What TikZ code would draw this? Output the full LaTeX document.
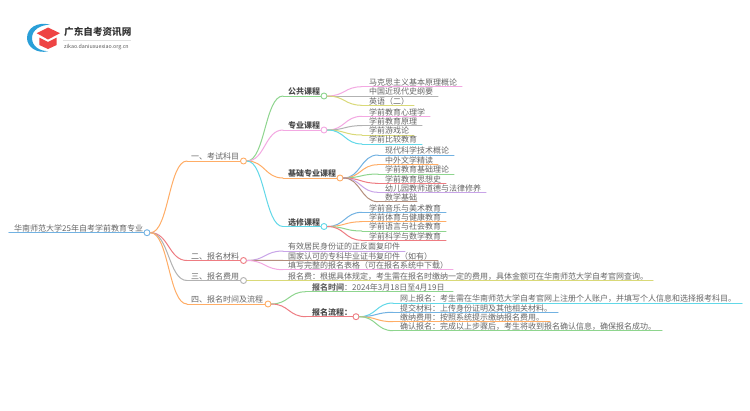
\documentclass[tikz,border=0pt]{standalone}
\usepackage{fontspec}
\setmainfont{Noto Sans CJK SC}
\usetikzlibrary{calc}
\definecolor{cpink}{HTML}{F3A8E2}
\definecolor{cgray}{HTML}{B2B2B2}
\definecolor{cyel}{HTML}{D9D978}
\definecolor{ccyan}{HTML}{62D8E8}
\definecolor{cblue}{HTML}{72B2E2}
\definecolor{corange}{HTML}{FFAD66}
\definecolor{cgreen}{HTML}{8ED58E}
\definecolor{cred}{HTML}{EE7C82}
\definecolor{cpurple}{HTML}{C8A4E8}
\definecolor{cbrown}{HTML}{B48E7C}
\definecolor{ctext}{HTML}{666666}
\definecolor{logoblue}{HTML}{2A9FD8}
\definecolor{logored}{HTML}{EE4444}
\tikzset{
  hubnode/.style={circle,draw=#1,fill=white,line width=0.9pt,inner sep=0pt,minimum size=6pt},
  wire/.style={draw=#1,line width=1pt,line cap=round},
  label/.style={anchor=base west,inner sep=0pt,text=ctext,font=\fontsize{8}{8}\selectfont},
  strong/.style={label,text=black!70,font=\fontsize{8}{8}\selectfont\bfseries},
}
\newcommand{\curveto}[3]{%
  \coordinate (mid) at ($(#1.east)!.5!(#2)$);
  \draw[wire=#3] (#1.east) .. controls (#1.east -| mid) and (#2 -| mid) .. (#2);}
\newcommand{\leaf}[8]{%
  \coordinate (#1-s) at (#4,#6);
  \coordinate (#1-e) at (#5,#6);
  \node[label] (#1) at (#7,#6-1.2) {#8};
  \curveto{#2}{#1-s}{#3}
  \draw[wire=#3] (#1-s) -- (#1-e);}
\newcommand{\branch}[9]{%
  \coordinate (#1-s) at (#4,#6);
  \node[hubnode=#3] (#1-h) at (#5,#6) {};
  \node[#8] (#1) at (#7,#6-1.2) {#9};
  \curveto{#2}{#1-s}{#3}
  \draw[wire=#3] (#1-s) -- (#1-h.west);}
\begin{document}
\begin{tikzpicture}[x=1pt,y=-1pt]
\useasboundingbox (0,0) rectangle (750,410);
\fill[white] (0,0) rectangle (750,410);
% logo
\fill[logoblue] (50,24.6) .. controls (37,21.5) and (27,28) .. (27,38) .. controls (27,47) and (37,54) .. (48,51.2) .. controls (39,51) and (32,46) .. (32,38) .. controls (32,30) and (40,25) .. (50,24.6) -- cycle;
\fill[logored] (36.7,33.2) -- (48,27.5) -- (60,33.2) -- (48,39.5) -- cycle;
\fill[logored] (39.3,37.6) -- (48,42) -- (56.7,37.6) -- (56.7,45) -- (48,49) -- (39.3,45) -- cycle;
\node[anchor=base west,inner sep=0pt,text=black!80,font=\fontsize{9.6}{10}\selectfont\bfseries] (brand) at (64,35) {广东自考资讯网};
\coordinate (ruleL) at (63,40.5);
\coordinate (ruleR) at (131,40.5);
\draw[black!12,line width=0.5pt] (ruleL) -- (ruleR);
\node[anchor=base west,inner sep=0pt,text=black!65,font=\fontsize{5.3}{5.3}\selectfont] (site) at (64,48) {zikao.daniuxuexiao.org.cn};
% root
\coordinate (root-s) at (9,232.7);
\node[hubnode=cblue] (root-h) at (147,232.7) {};
\draw[wire=cblue,line width=1.2pt] (root-s) -- (root-h.west);
\node[label] (root) at (14,231.5) {华南师范大学25年自考学前教育专业};
% level 1
\branch{a}{root-h}{corange}{187}{243.5}{161}{191}{label}{一、考试科目}
\branch{b}{root-h}{cred}{187}{243.5}{260.5}{191}{label}{二、报名材料}
\branch{c}{root-h}{cgray}{187}{243.5}{280.5}{191}{label}{三、报名费用}
\branch{d}{root-h}{corange}{187}{268}{304}{191}{label}{四、报名时间及流程}
% level 2 under a
\branch{a1}{a-h}{cgreen}{283}{324}{96}{288}{strong}{公共课程}
\branch{a2}{a-h}{cpink}{283}{324}{130}{288}{strong}{专业课程}
\branch{a3}{a-h}{corange}{283}{340}{178}{288}{strong}{基础专业课程}
\branch{a4}{a-h}{ccyan}{283}{324}{226.5}{288}{strong}{选修课程}
% a1
\leaf{a11}{a1-h}{cpink}{362}{462}{86.7}{369}{马克思主义基本原理概论}
\leaf{a12}{a1-h}{cgray}{362}{438}{96}{369}{中国近现代史纲要}
\leaf{a13}{a1-h}{cyel}{362}{414}{105.3}{369}{英语（二）}
% a2
\leaf{a21}{a2-h}{cpink}{362}{430}{116.3}{369}{学前教育心理学}
\leaf{a22}{a2-h}{cgray}{362}{422}{125.6}{369}{学前教育原理}
\leaf{a23}{a2-h}{cyel}{362}{414}{135}{369}{学前游戏论}
\leaf{a24}{a2-h}{ccyan}{362}{422}{144}{369}{学前比较教育}
% a3
\leaf{a31}{a3-h}{cblue}{378}{454}{155}{385}{现代科学技术概论}
\leaf{a32}{a3-h}{corange}{378}{438}{164.7}{385}{中外文学精读}
\leaf{a33}{a3-h}{cgreen}{378}{454}{174}{385}{学前教育基础理论}
\leaf{a34}{a3-h}{cred}{378}{446}{183.3}{385}{学前教育思想史}
\leaf{a35}{a3-h}{cpurple}{378}{486}{192.3}{385}{幼儿园教师道德与法律修养}
\leaf{a36}{a3-h}{cbrown}{378}{417}{201.7}{385}{数学基础}
% a4
\leaf{a41}{a4-h}{cblue}{362}{446}{212.3}{369}{学前音乐与美术教育}
\leaf{a42}{a4-h}{corange}{362}{446}{221.7}{369}{学前体育与健康教育}
\leaf{a43}{a4-h}{cgreen}{362}{446}{231}{369}{学前语言与社会教育}
\leaf{a44}{a4-h}{cred}{362}{446}{240.3}{369}{学前科学与数学教育}
% b
\leaf{b1}{b-h}{cpurple}{283}{405}{251}{288}{有效居民身份证的正反面复印件}
\leaf{b2}{b-h}{cbrown}{283}{438}{260.3}{288}{国家认可的专科毕业证书复印件（如有）}
\leaf{b3}{b-h}{cpink}{283}{453}{269.7}{288}{填写完整的报名表格（可在报名系统中下载）}
% c
\leaf{c1}{c-h}{cyel}{283}{653}{280.5}{288}{报名费：根据具体规定，考生需在报名时缴纳一定的费用，具体金额可在华南师范大学自考官网查询。}
% d
\leaf{d1}{d-h}{cgreen}{306}{453}{291.7}{312}{\textbf{报名时间}：2024年3月18日至4月19日}
\branch{d2}{d-h}{cred}{306}{356}{316.7}{312}{strong}{报名流程：}
\leaf{d21}{d2-h}{ccyan}{393}{742}{303}{400}{网上报名：考生需在华南师范大学自考官网上注册个人账户，并填写个人信息和选择报考科目。}
\leaf{d22}{d2-h}{cblue}{393}{558}{312.3}{400}{提交材料：上传身份证明及其他相关材料。}
\leaf{d23}{d2-h}{corange}{393}{550}{321.7}{400}{缴纳费用：按照系统提示缴纳报名费用。}
\leaf{d24}{d2-h}{cgreen}{393}{662}{330.7}{400}{确认报名：完成以上步骤后，考生将收到报名确认信息，确保报名成功。}
\end{tikzpicture}
\end{document}
